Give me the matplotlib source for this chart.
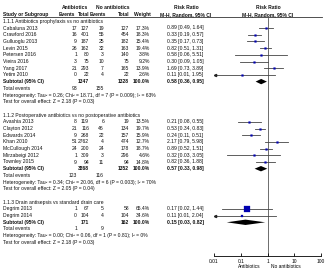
import numpy as np
import matplotlib
matplotlib.use("Agg")
import matplotlib.pyplot as plt
from matplotlib.transforms import blended_transform_factory

# data
studies1 = ["Cabaluna 2013", "Crawford 2016", "Gulluoglu 2013", "Levin 2015",
            "Petersen 2016", "Vieira 2016", "Yang 2017", "Yetim 2010"]
ev_ab1 = [17, 16, 9, 26, 1, 3, 21, 0]
n_ab1 = [127, 401, 187, 162, 80, 75, 293, 22]
ev_no1 = [19, 55, 25, 32, 3, 10, 7, 4]
n_no1 = [127, 454, 182, 163, 140, 75, 165, 22]
weight1 = [17.3, 18.3, 15.4, 19.4, 3.8, 9.2, 13.9, 2.6]
rr1 = [0.89, 0.33, 0.35, 0.82, 0.58, 0.30, 1.69, 0.11]
lo1 = [0.49, 0.19, 0.17, 0.51, 0.06, 0.09, 0.73, 0.006]
hi1 = [1.64, 0.57, 0.73, 1.31, 5.51, 1.05, 3.89, 1.95]
sub1 = dict(n_ab=1347, n_no=1328, rr=0.58, lo=0.36, hi=0.95, ev_ab=93, ev_no=155,
            het="Heterogeneity: Tau\u00b2 = 0.26; Chi\u00b2 = 18.71, df = 7 (P = 0.009); I\u00b2 = 63%",
            test="Test for overall effect: Z = 2.18 (P = 0.03)")

studies2 = ["Avashia 2013", "Clayton 2012", "Edwards 2014", "Khan 2010",
            "McCullough 2014", "Mirzabeigi 2012", "Townley 2015"]
ev_ab2 = [8, 21, 9, 51, 24, 1, 9]
n_ab2 = [119, 116, 268, 2762, 200, 309, 94]
ev_no2 = [6, 46, 22, 4, 24, 3, 11]
n_no2 = [19, 134, 157, 474, 178, 296, 94]
weight2 = [13.5, 19.7, 15.9, 12.7, 18.7, 4.6, 14.8]
rr2 = [0.21, 0.53, 0.24, 2.17, 0.89, 0.32, 0.82]
lo2 = [0.08, 0.34, 0.11, 0.79, 0.52, 0.03, 0.36]
hi2 = [0.55, 0.83, 0.51, 5.98, 1.51, 3.05, 1.88]
sub2 = dict(n_ab=3868, n_no=1352, rr=0.57, lo=0.33, hi=0.98, ev_ab=123, ev_no=116,
            het="Heterogeneity: Tau\u00b2 = 0.34; Chi\u00b2 = 20.06, df = 6 (P = 0.003); I\u00b2 = 70%",
            test="Test for overall effect: Z = 2.05 (P = 0.04)")

studies3 = ["Degrim 2013", "Degrim 2014"]
ev_ab3 = [1, 0]
n_ab3 = [67, 104]
ev_no3 = [5, 4]
n_no3 = [58, 104]
weight3 = [65.4, 34.6]
rr3 = [0.17, 0.11]
lo3 = [0.02, 0.006]
hi3 = [1.44, 2.04]
sub3 = dict(n_ab=171, n_no=162, rr=0.15, lo=0.03, hi=0.82, ev_ab=1, ev_no=9,
            het="Heterogeneity: Tau\u00b2 = 0.00; Chi\u00b2 = 0.06, df = 1 (P = 0.81); I\u00b2 = 0%",
            test="Test for overall effect: Z = 2.18 (P = 0.03)")

sections = [
    ("1.1.1 Antibiotics prophylaxis vs no antibiotics", studies1, ev_ab1, n_ab1, ev_no1, n_no1, weight1, rr1, lo1, hi1, sub1),
    ("1.1.2 Postoperative antibiotics vs no postoperative antibiotics", studies2, ev_ab2, n_ab2, ev_no2, n_no2, weight2, rr2, lo2, hi2, sub2),
    ("1.1.3 Drain antisepsis vs standard drain care", studies3, ev_ab3, n_ab3, ev_no3, n_no3, weight3, rr3, lo3, hi3, sub3),
]

W, H = 327, 270
fig = plt.figure(figsize=(W / 100, H / 100), dpi=100)
plt.rcParams['font.family'] = ['Liberation Sans', 'DejaVu Sans']

row0, step = 28, 6.7          # pixel y of first study row, row pitch
y_top, y_bot = 18, 256
x0, x1 = 214, 321
ax = fig.add_axes([x0 / W, 1 - y_bot / H, (x1 - x0) / W, (y_bot - y_top) / H])
ax.set_xscale("log")
ax.set_xlim(0.01, 100)
ax.set_ylim((y_bot - row0) / step, (y_top - row0) / step)
for s in ["top", "left", "right"]:
    ax.spines[s].set_visible(False)
ax.spines["bottom"].set_linewidth(0.6)
ax.set_yticks([])
ax.set_xticks([0.01, 0.1, 1, 10, 100])
ax.set_xticklabels(["0.01", "0.1", "1", "10", "100"])
ax.minorticks_off()
ax.tick_params(axis="x", direction="in", length=2.5, width=0.6, labelsize=3.5, pad=2)
ax.axvline(1, color="#555555", lw=0.6, zorder=1)

tr = blended_transform_factory(fig.transFigure, ax.transData)
fs = 3.6


def t(x, r, s, ha="left", bold=False):
    fig.text(x / W, r, s, transform=tr, ha=ha, va="center", fontsize=fs,
             fontweight="bold" if bold else "normal", color="#111111")


# headers (in axis row units)
rh1, rh2 = (7.5 - row0) / step, (14.2 - row0) / step
t(75, rh1, "Antibiotics", "center", True)
t(113, rh1, "No antibiotics", "center", True)
t(186, rh1, "Risk Ratio", "center", True)
t(268, rh1, "Risk Ratio", "center", True)
t(3, rh2, "Study or Subgroup", bold=True)
t(67, rh2, "Events", "center", True)
t(84, rh2, "Total", "center", True)
t(98, rh2, "Events", "center", True)
t(124, rh2, "Total", "center", True)
t(142, rh2, "Weight", "center", True)
t(186, rh2, "M-H, Random, 95% CI", "center", True)
t(268, rh2, "M-H, Random, 95% CI", "center", True)
fig.add_artist(plt.Line2D([3 / W, 322 / W], [1 - 17 / H] * 2, color="#333333", lw=0.6))

c_ev1, c_n1, c_ev2, c_n2, c_w, c_ci = 77, 89, 104, 129, 150, 167

r = -1
for title, names, ea, na, eb, nb, wt, rr, lo, hi, sub in sections:
    t(3, r, title)
    r += 1
    for i, name in enumerate(names):
        t(3, r, name)
        t(c_ev1, r, str(ea[i]), "right")
        t(c_n1, r, str(na[i]), "right")
        t(c_ev2, r, str(eb[i]), "right")
        t(c_n2, r, str(nb[i]), "right")
        t(c_w, r, "%.1f%%" % wt[i], "right")
        t(c_ci, r, "%.2f [%.2f, %.2f]" % (rr[i], max(lo[i], 0.01), hi[i]))
        a, b = max(lo[i], 0.0105), min(hi[i], 95)
        ax.plot([a, b], [r, r], color="#444444", lw=0.6, zorder=2)
        if lo[i] < 0.01:
            ax.plot(0.0105, r, marker="<", ms=1.6, color="#222222", zorder=3)
        ax.plot(rr[i], r, marker="s", ms=max(1.3, wt[i] / 100 * 5.6),
                color="#0000b0", mec="#0000b0", mew=0.2, zorder=4)
        r += 1
    t(3, r, "Subtotal (95% CI)", bold=True)
    t(c_n1, r, str(sub["n_ab"]), "right", True)
    t(c_n2, r, str(sub["n_no"]), "right", True)
    t(c_w, r, "100.0%", "right", True)
    t(c_ci, r, "%.2f [%.2f, %.2f]" % (sub["rr"], sub["lo"], sub["hi"]), bold=True)
    ax.fill([sub["lo"], sub["rr"], sub["hi"], sub["rr"]], [r, r - 0.4, r, r + 0.4],
            color="black", lw=0, zorder=4)
    r += 1
    t(3, r, "Total events")
    t(c_ev1, r, str(sub["ev_ab"]), "right")
    t(c_ev2, r, str(sub["ev_no"]), "right")
    r += 1
    t(3, r, sub["het"])
    r += 1
    t(3, r, sub["test"])
    r += 2

fig.text(261 / W, 1 - 267 / H, "Antibiotics", ha="right", va="center", fontsize=3.5)
fig.text(271 / W, 1 - 267 / H, "No antibiotics", ha="left", va="center", fontsize=3.5)

fig.savefig("out.png", dpi=100)
